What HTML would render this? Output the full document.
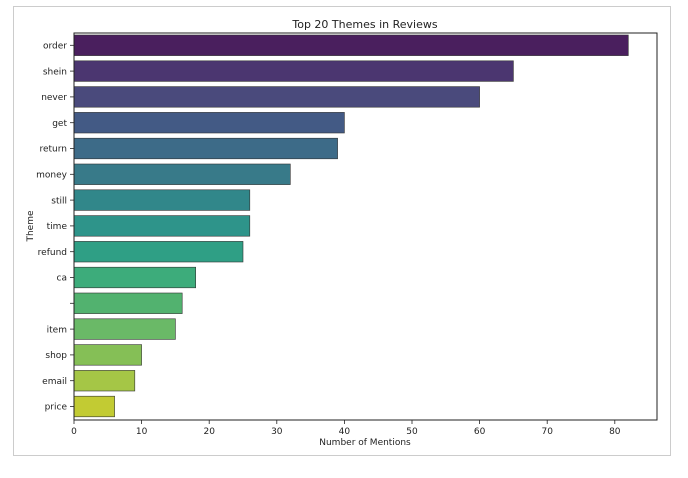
<!DOCTYPE html>
<html><head><style>
body{margin:0;background:#fff;}
svg text{font-family:"DejaVu Sans","Liberation Sans",sans-serif;fill:#222;}
</style></head><body>
<svg width="688" height="473" viewBox="0 0 688 473" xmlns="http://www.w3.org/2000/svg">
<rect x="0" y="0" width="688" height="473" fill="#fff"/>
<rect x="13.5" y="6.5" width="657" height="449" fill="#fff" stroke="#ccc" stroke-width="1"/>
<text x="365" y="28" font-size="11" text-anchor="middle">Top 20 Themes in Reviews</text>
<g stroke="#333" stroke-width="0.6">
<rect x="74" y="35" width="554.3" height="20.6" fill="#4a1f5e"/>
<rect x="74" y="60.8" width="439.4" height="20.6" fill="#4b3670"/>
<rect x="74" y="86.6" width="405.6" height="20.6" fill="#4a4a7c"/>
<rect x="74" y="112.4" width="270.4" height="20.6" fill="#435a85"/>
<rect x="74" y="138.2" width="263.6" height="20.6" fill="#3d6b88"/>
<rect x="74" y="164" width="216.3" height="20.6" fill="#387a89"/>
<rect x="74" y="189.8" width="175.8" height="20.6" fill="#31878a"/>
<rect x="74" y="215.6" width="175.8" height="20.6" fill="#2e948a"/>
<rect x="74" y="241.4" width="169" height="20.6" fill="#2f9f85"/>
<rect x="74" y="267.2" width="121.7" height="20.6" fill="#3dac7b"/>
<rect x="74" y="293" width="108.2" height="20.6" fill="#52b26f"/>
<rect x="74" y="318.8" width="101.4" height="20.6" fill="#6ab967"/>
<rect x="74" y="344.6" width="67.6" height="20.6" fill="#85bf56"/>
<rect x="74" y="370.4" width="60.8" height="20.6" fill="#a5c646"/>
<rect x="74" y="396.2" width="40.6" height="20.6" fill="#c2cb33"/>
</g>
<rect x="74" y="33" width="583" height="387" fill="none" stroke="#222" stroke-width="1"/>
<g font-size="9" text-anchor="end">
<text x="67" y="48.5">order</text>
<text x="67" y="74.3">shein</text>
<text x="67" y="100.1">never</text>
<text x="67" y="125.9">get</text>
<text x="67" y="151.7">return</text>
<text x="67" y="177.5">money</text>
<text x="67" y="203.3">still</text>
<text x="67" y="229.1">time</text>
<text x="67" y="254.9">refund</text>
<text x="67" y="280.7">ca</text>
<text x="67" y="332.3">item</text>
<text x="67" y="358.1">shop</text>
<text x="67" y="383.9">email</text>
<text x="67" y="409.7">price</text>
</g>
<g stroke="#222" stroke-width="0.8">
<line x1="70" y1="45.3" x2="74" y2="45.3"/><line x1="70" y1="71.1" x2="74" y2="71.1"/>
<line x1="70" y1="96.9" x2="74" y2="96.9"/><line x1="70" y1="122.7" x2="74" y2="122.7"/>
<line x1="70" y1="148.5" x2="74" y2="148.5"/><line x1="70" y1="174.3" x2="74" y2="174.3"/>
<line x1="70" y1="200.1" x2="74" y2="200.1"/><line x1="70" y1="225.9" x2="74" y2="225.9"/>
<line x1="70" y1="251.7" x2="74" y2="251.7"/><line x1="70" y1="277.5" x2="74" y2="277.5"/>
<line x1="70" y1="303.3" x2="74" y2="303.3"/><line x1="70" y1="329.1" x2="74" y2="329.1"/>
<line x1="70" y1="354.9" x2="74" y2="354.9"/><line x1="70" y1="380.7" x2="74" y2="380.7"/>
<line x1="70" y1="406.5" x2="74" y2="406.5"/>
<line x1="74" y1="420" x2="74" y2="424"/><line x1="141.6" y1="420" x2="141.6" y2="424"/>
<line x1="209.2" y1="420" x2="209.2" y2="424"/><line x1="276.8" y1="420" x2="276.8" y2="424"/>
<line x1="344.4" y1="420" x2="344.4" y2="424"/><line x1="412" y1="420" x2="412" y2="424"/>
<line x1="479.6" y1="420" x2="479.6" y2="424"/><line x1="547.2" y1="420" x2="547.2" y2="424"/>
<line x1="614.8" y1="420" x2="614.8" y2="424"/>
</g>
<g font-size="9" text-anchor="middle">
<text x="74" y="434">0</text><text x="141.6" y="434">10</text><text x="209.2" y="434">20</text>
<text x="276.8" y="434">30</text><text x="344.4" y="434">40</text><text x="412" y="434">50</text>
<text x="479.6" y="434">60</text><text x="547.2" y="434">70</text><text x="614.8" y="434">80</text>
</g>
<text x="365" y="445" font-size="9" text-anchor="middle">Number of Mentions</text>
<text x="33" y="226" font-size="9" text-anchor="middle" transform="rotate(-90 33 226)">Theme</text>
</svg>
</body></html>
